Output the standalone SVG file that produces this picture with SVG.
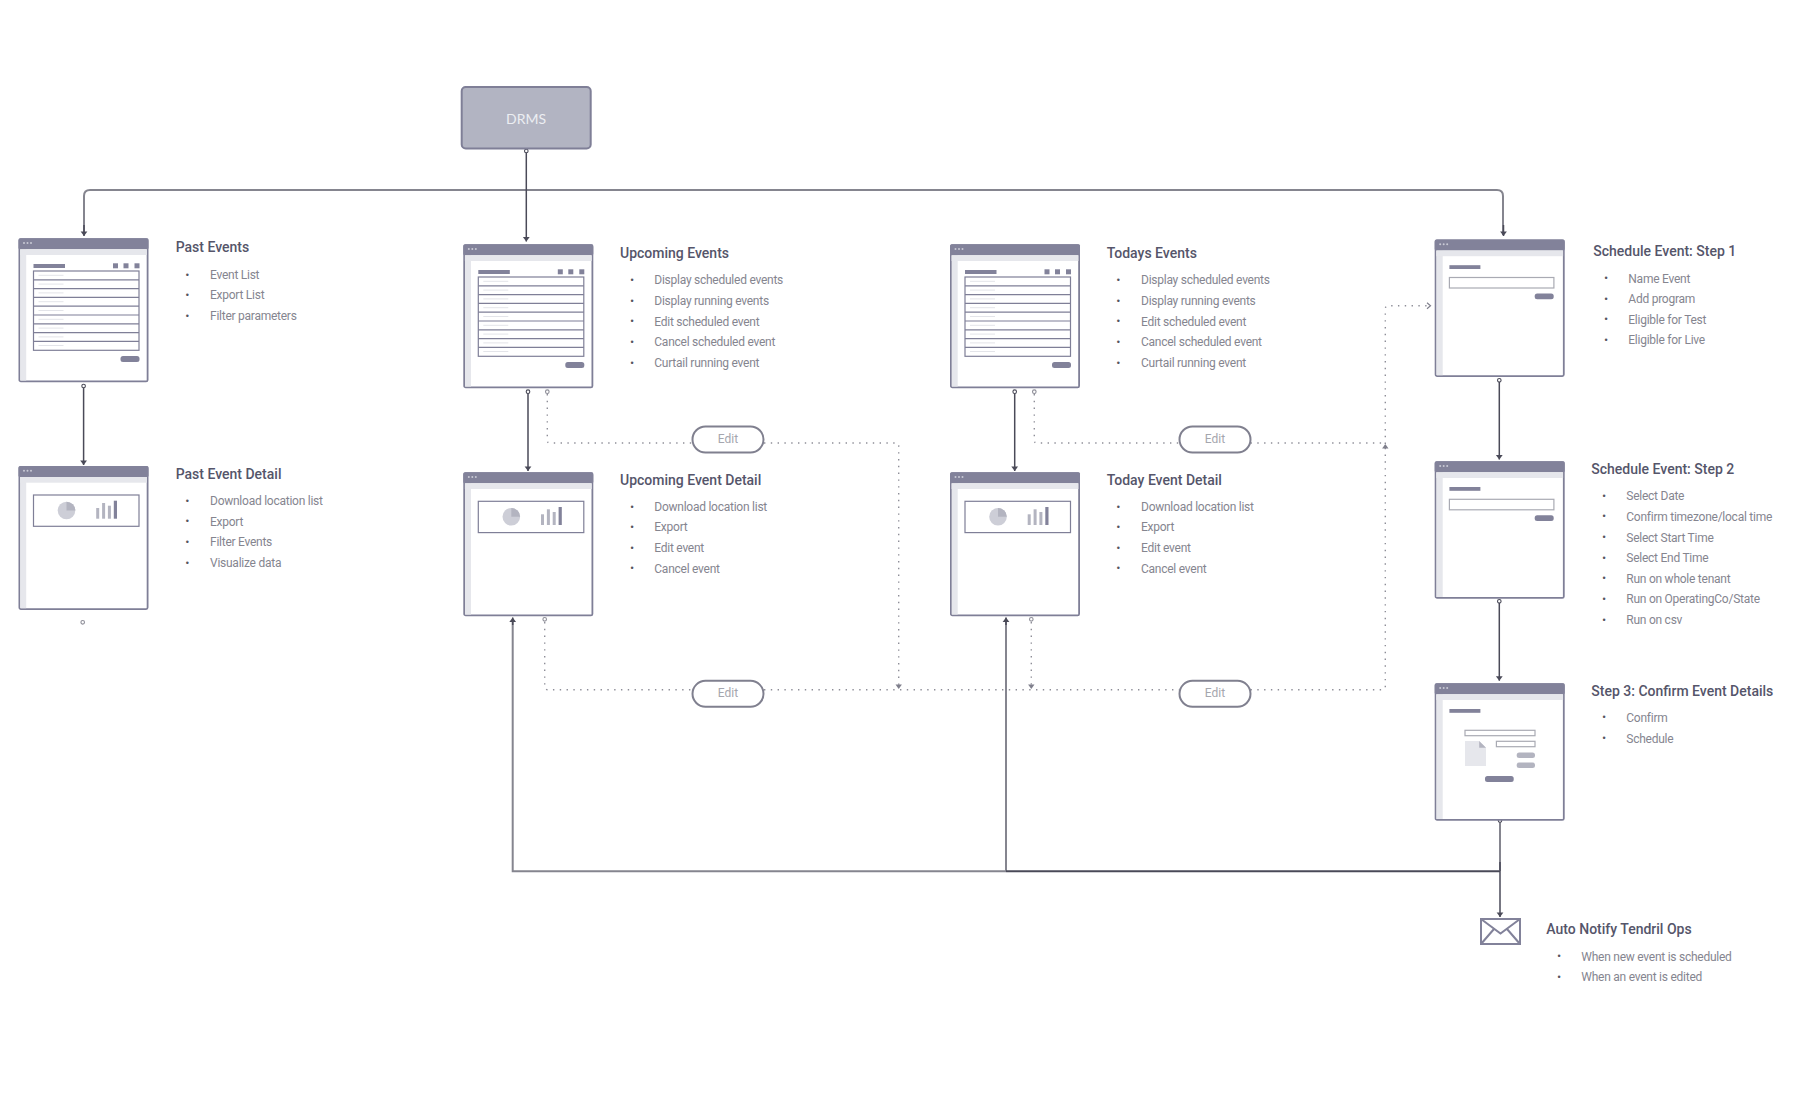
<svg xmlns="http://www.w3.org/2000/svg" width="1794" height="1094" viewBox="0 0 1794 1094">
<style>
.bg{fill:#fff}
.title{font:500 14px Roboto,"Liberation Sans",sans-serif;fill:#55556a}
.item{font:400 12px Roboto,"Liberation Sans",sans-serif;fill:#85858f;letter-spacing:-.25px}
.dot{font:400 9px "Liberation Sans",sans-serif;fill:#55555f;text-anchor:middle}
.edit{font:400 12px Roboto,"Liberation Sans",sans-serif;fill:#a5a6ae;text-anchor:middle}
.pill{fill:#fff;stroke:#80808f;stroke-width:2}
.frame{fill:#fff;stroke:#7f7f97;stroke-width:1.8}
.bar{fill:#82829a}
.light{fill:#e6e7ec}
.wd{fill:#c9cad5}
.box{fill:#fff;stroke:#7f7f97;stroke-width:1.2}
.boxl{fill:#fff;stroke:#a9aab3;stroke-width:1.2}
.rowl{stroke:#e3e4e9;stroke-width:1}
.solid{fill:none;stroke:#4a4a58;stroke-width:1.5;marker-end:url(#tip)}
.gray{fill:none;stroke:#85858f;stroke-width:2}
.dots{fill:none;stroke:#8e8e98;stroke-width:1.4;stroke-dasharray:1.4 5.4}
</style>
<defs>
<marker id="tip" markerUnits="userSpaceOnUse" markerWidth="8" markerHeight="8" viewBox="-5 -4 6 8" refX="0" refY="0" orient="auto"><path d="M-4.5 -3.4L0 0L-4.5 3.4z" fill="#4a4a58"/></marker>
<marker id="tipg" markerUnits="userSpaceOnUse" markerWidth="8" markerHeight="8" viewBox="-5 -4 6 8" refX="0" refY="0" orient="auto"><path d="M-4.5 -3.2L0 0L-4.5 3.2z" fill="#7f7f8c"/></marker>
<marker id="open" markerUnits="userSpaceOnUse" markerWidth="8" markerHeight="8" viewBox="-5 -4 6 8" refX="0" refY="0" orient="auto"><path d="M-3.5 -3L0 0L-3.5 3" fill="none" stroke="#7f7f8c" stroke-width="1.2"/></marker>
<circle id="c" r="1.8" fill="#fff" stroke="#4a4a58" stroke-width="1.1"/>
<circle id="cl" r="1.8" fill="#fff" stroke="#8e8e98" stroke-width="1.1"/>
<g id="chrome">
<rect class="bar" x="0" y="0" width="130" height="11" rx="1.5"/>
<rect class="light" x="1.6" y="11" width="126.8" height="5.7"/>
<circle class="wd" cx="5.5" cy="4.8" r="1"/><circle class="wd" cx="9" cy="4.8" r="1"/><circle class="wd" cx="12.5" cy="4.8" r="1"/>
</g>
<g id="win144"><rect class="frame" x=".9" y=".9" width="128.2" height="142.2" rx="1.5"/><rect class="light" x="1.8" y="11" width="5.9" height="131.2"/><use href="#chrome"/></g>
<g id="win137"><rect class="frame" x=".9" y=".9" width="128.2" height="135.7" rx="1.5"/><rect class="light" x="1.8" y="11" width="6.2" height="124.7"/><use href="#chrome"/></g>
<g id="table">
<rect class="bar" x="15" y="25.7" width="31.5" height="4"/>
<rect class="bar" x="94.5" y="25" width="5" height="5"/><rect class="bar" x="105" y="25" width="5" height="5"/><rect class="bar" x="116" y="25" width="5" height="5"/>
<rect class="box" x="15" y="32.7" width="105.5" height="79.3"/>
<path d="M15 41.5H120.5M15 50.3H120.5M15 59.1H120.5M15 67.9H120.5M15 76.7H120.5M15 85.5H120.5M15 94.3H120.5M15 103.1H120.5" fill="none" stroke="#7f7f97" stroke-width="1.2"/>
<path class="rowl" d="M20 37H45M20 45.8H45M20 54.6H45M20 63.4H45M20 72.2H45M20 81H45M20 89.8H45M20 98.6H45M20 107.2H45"/>
<rect class="bar" x="102" y="117.7" width="19" height="6" rx="2.5"/>
</g>
<g id="chart">
<rect class="box" x="15" y="29" width="105.5" height="31.3"/>
<circle cx="48" cy="44.5" r="8.8" fill="#cdced7"/>
<path d="M48 44.5V35.7A8.8 8.8 0 0 1 56.8 44.5z" fill="#b3b4c0"/>
<rect x="77.7" y="42" width="3" height="10.7" fill="#b3b4c0"/><rect x="83.6" y="37" width="3" height="15.7" fill="#b3b4c0"/><rect x="89.4" y="39.7" width="3" height="13" fill="#b3b4c0"/><rect x="95.3" y="34.7" width="3.2" height="18" fill="#82829a"/>
</g>
<g id="form">
<rect class="bar" x="14.7" y="25.7" width="31" height="3.8"/>
<rect class="boxl" x="14.7" y="38" width="104.5" height="10.5"/>
<rect class="bar" x="100" y="54" width="19" height="5.8" rx="2.5"/>
</g>
<g id="confirm">
<rect class="bar" x="14.7" y="25.7" width="31" height="3.8"/>
<rect class="boxl" x="30.3" y="47" width="70" height="5.4"/>
<rect class="boxl" x="61.7" y="58" width="38.6" height="5.4"/>
<path d="M30.3 57.7H44.5L51.3 64.5V82.7H30.3z" fill="#e6e7ec"/><path d="M44.5 57.7L51.3 64.5H44.5z" fill="#b3b4c0"/>
<rect x="82" y="69.3" width="18.3" height="5.4" rx="2.5" fill="#b3b4c0"/><rect x="82" y="79.3" width="18.3" height="5.4" rx="2.5" fill="#b3b4c0"/>
<rect class="bar" x="50.3" y="92.7" width="28.7" height="6" rx="2.5"/>
</g>
</defs>
<rect class="bg" width="1794" height="1094"/>

<g id="connectors">
<path class="gray" d="M84 235V196Q84 190 90 190H1497Q1503 190 1503 196V235"/>
<path class="solid" d="M84 225V236"/>
<path class="solid" d="M1503.5 225V236"/>
<path class="solid" d="M526.3 151V241.5"/>
<path class="solid" d="M83.6 386V465"/>
<path class="solid" d="M528 392V471"/>
<path class="solid" d="M1014.7 392V471"/>
<path class="solid" d="M1499.3 380.5V459.5"/>
<path class="solid" d="M1499.3 601.5V680.7"/>
<path class="gray" d="M1006 871.3H512.7V620"/>
<path class="gray" d="M1006 871.3V620"/>
<path class="solid" d="M512.7 625V617.5"/>
<path class="solid" d="M1006 625V617.5"/>
<path class="solid" style="marker-end:none;stroke-width:2" d="M1500 871.3H1006"/>
<path class="gray" d="M1500 822V871"/>
<path class="solid" d="M1500 862V917"/>
<path class="dots" d="M547.3 394V440.5Q547.3 443 550 443H692"/>
<path class="dots" d="M764 443H896Q898.7 443 898.7 445.5V689" marker-end="url(#tipg)"/>
<path class="dots" d="M544.7 622V687Q544.7 689.7 547.5 689.7H692"/>
<path class="dots" d="M764 689.7H1179"/>
<path class="dots" d="M1034.3 394V440.5Q1034.3 443 1037 443H1179"/>
<path class="dots" d="M1250.5 443H1385"/>
<path class="dots" d="M1031.3 622V689" marker-end="url(#tipg)"/>
<path class="dots" d="M1250.5 689.7H1382Q1385.3 689.7 1385.3 686.5V444" marker-end="url(#tipg)"/>
<path class="dots" d="M1385.3 444V309Q1385.3 305.7 1388.5 305.7H1430.5" marker-end="url(#open)"/>
<use href="#c" x="526.3" y="151"/><use href="#c" x="83.6" y="386"/><use href="#c" x="528" y="391.7"/><use href="#c" x="1014.7" y="391.7"/><use href="#c" x="1499.3" y="380.3"/><use href="#c" x="1499.3" y="601.3"/><use href="#c" x="1500" y="820.5"/>
<use href="#cl" x="547.3" y="391.7"/><use href="#cl" x="1034.3" y="391.7"/><use href="#cl" x="544.7" y="619.3"/><use href="#cl" x="1031.3" y="619.3"/><use href="#cl" x="82.7" y="622.3"/>
</g>

<g id="drms"><rect x="461.7" y="87" width="129" height="61.5" rx="4" fill="#b2b4c2" stroke="#7f7f97" stroke-width="2"/><text x="526" y="123.5" text-anchor="middle" style="font:400 14px Lato,'Liberation Sans',sans-serif;fill:#eceef2">DRMS</text></g>

<g id="past-events"><use href="#win144" x="18.5" y="238.3"/><use href="#table" x="18.5" y="238.3"/>
<text class="title" x="175.7" y="251.7">Past Events</text>
<text class="dot" x="187.3" y="277.5">•</text><text class="item" x="210" y="278.7">Event List</text>
<text class="dot" x="187.3" y="298">•</text><text class="item" x="210" y="299.4">Export List</text>
<text class="dot" x="187.3" y="319">•</text><text class="item" x="210" y="320">Filter parameters</text></g>

<g id="past-event-detail"><use href="#win144" x="18.5" y="466"/><use href="#chart" x="18.5" y="466"/>
<text class="title" x="175.7" y="479.3">Past Event Detail</text>
<text class="dot" x="187.3" y="503.7">•</text><text class="item" x="210" y="505">Download location list</text>
<text class="dot" x="187.3" y="524.3">•</text><text class="item" x="210" y="525.6">Export</text>
<text class="dot" x="187.3" y="545">•</text><text class="item" x="210" y="546.3">Filter Events</text>
<text class="dot" x="187.3" y="565.7">•</text><text class="item" x="210" y="567">Visualize data</text></g>

<g id="upcoming-events"><use href="#win144" x="463.3" y="244.3"/><use href="#table" x="463.3" y="244.3"/>
<text class="title" x="620" y="257.7">Upcoming Events</text>
<text class="dot" x="632" y="283">•</text><text class="item" x="654.3" y="284.3">Display scheduled events</text>
<text class="dot" x="632" y="303.7">•</text><text class="item" x="654.3" y="305">Display running events</text>
<text class="dot" x="632" y="324.3">•</text><text class="item" x="654.3" y="325.6">Edit scheduled event</text>
<text class="dot" x="632" y="345">•</text><text class="item" x="654.3" y="346.2">Cancel scheduled event</text>
<text class="dot" x="632" y="365.5">•</text><text class="item" x="654.3" y="366.8">Curtail running event</text></g>

<g id="upcoming-event-detail"><use href="#win144" x="463.3" y="472.3"/><use href="#chart" x="463.3" y="472.3"/>
<text class="title" x="620" y="485.3">Upcoming Event Detail</text>
<text class="dot" x="632" y="509.5">•</text><text class="item" x="654.3" y="510.7">Download location list</text>
<text class="dot" x="632" y="530">•</text><text class="item" x="654.3" y="531.4">Export</text>
<text class="dot" x="632" y="550.7">•</text><text class="item" x="654.3" y="552">Edit event</text>
<text class="dot" x="632" y="571.3">•</text><text class="item" x="654.3" y="572.6">Cancel event</text></g>

<g id="todays-events"><use href="#win144" x="950" y="244.3"/><use href="#table" x="950" y="244.3"/>
<text class="title" x="1106.7" y="257.7">Todays Events</text>
<text class="dot" x="1118.3" y="283">•</text><text class="item" x="1141" y="284.3">Display scheduled events</text>
<text class="dot" x="1118.3" y="303.7">•</text><text class="item" x="1141" y="305">Display running events</text>
<text class="dot" x="1118.3" y="324.3">•</text><text class="item" x="1141" y="325.6">Edit scheduled event</text>
<text class="dot" x="1118.3" y="345">•</text><text class="item" x="1141" y="346.2">Cancel scheduled event</text>
<text class="dot" x="1118.3" y="365.5">•</text><text class="item" x="1141" y="366.8">Curtail running event</text></g>

<g id="today-event-detail"><use href="#win144" x="950" y="472.3"/><use href="#chart" x="950" y="472.3"/>
<text class="title" x="1106.7" y="485.3">Today Event Detail</text>
<text class="dot" x="1118.3" y="509.5">•</text><text class="item" x="1141" y="510.7">Download location list</text>
<text class="dot" x="1118.3" y="530">•</text><text class="item" x="1141" y="531.4">Export</text>
<text class="dot" x="1118.3" y="550.7">•</text><text class="item" x="1141" y="552">Edit event</text>
<text class="dot" x="1118.3" y="571.3">•</text><text class="item" x="1141" y="572.6">Cancel event</text></g>

<g id="step-1"><use href="#win137" x="1434.7" y="239.5"/><use href="#form" x="1434.7" y="239.5"/>
<text class="title" x="1593.3" y="256.3">Schedule Event: Step 1</text>
<text class="dot" x="1606" y="281">•</text><text class="item" x="1628.3" y="282.8">Name Event</text>
<text class="dot" x="1606" y="301.7">•</text><text class="item" x="1628.3" y="303.4">Add program</text>
<text class="dot" x="1606" y="322.3">•</text><text class="item" x="1628.3" y="323.8">Eligible for Test</text>
<text class="dot" x="1606" y="343">•</text><text class="item" x="1628.3" y="344.4">Eligible for Live</text></g>

<g id="step-2"><use href="#win137" x="1434.7" y="461.3"/><use href="#form" x="1434.7" y="461.3"/>
<text class="title" x="1591.3" y="474.3">Schedule Event: Step 2</text>
<text class="dot" x="1604" y="498.7">•</text><text class="item" x="1626.3" y="500.3">Select Date</text>
<text class="dot" x="1604" y="519.3">•</text><text class="item" x="1626.3" y="520.8">Confirm timezone/local time</text>
<text class="dot" x="1604" y="540">•</text><text class="item" x="1626.3" y="541.6">Select Start Time</text>
<text class="dot" x="1604" y="560.5">•</text><text class="item" x="1626.3" y="562">Select End Time</text>
<text class="dot" x="1604" y="581.2">•</text><text class="item" x="1626.3" y="582.7">Run on whole tenant</text>
<text class="dot" x="1604" y="601.8">•</text><text class="item" x="1626.3" y="603.3">Run on OperatingCo/State</text>
<text class="dot" x="1604" y="622.5">•</text><text class="item" x="1626.3" y="623.9">Run on csv</text></g>

<g id="step-3"><use href="#win137" x="1434.7" y="683.3"/><use href="#confirm" x="1434.7" y="683.3"/>
<text class="title" x="1591.3" y="696">Step 3: Confirm Event Details</text>
<text class="dot" x="1604" y="720.4">•</text><text class="item" x="1626.3" y="722">Confirm</text>
<text class="dot" x="1604" y="741">•</text><text class="item" x="1626.3" y="742.6">Schedule</text></g>

<g id="auto-notify"><g fill="none" stroke="#82829a" stroke-width="2"><rect x="1481" y="919" width="39" height="25"/><path d="M1481 919L1500.5 933.5L1520 919M1481 944L1494 929M1520 944L1507 929"/></g>
<text class="title" x="1546.3" y="934.3">Auto Notify Tendril Ops</text>
<text class="dot" x="1559" y="959">•</text><text class="item" x="1581.3" y="960.6">When new event is scheduled</text>
<text class="dot" x="1559" y="979.7">•</text><text class="item" x="1581.3" y="981.2">When an event is edited</text></g>

<g id="edit-1"><rect class="pill" x="692.5" y="426.5" width="71" height="26" rx="13"/><text class="edit" x="728" y="443">Edit</text></g>
<g id="edit-2"><rect class="pill" x="1179.5" y="426.5" width="71" height="26" rx="13"/><text class="edit" x="1215" y="443">Edit</text></g>
<g id="edit-3"><rect class="pill" x="692.5" y="680.8" width="71" height="26" rx="13"/><text class="edit" x="728" y="697">Edit</text></g>
<g id="edit-4"><rect class="pill" x="1179.5" y="680.8" width="71" height="26" rx="13"/><text class="edit" x="1215" y="697">Edit</text></g>
</svg>
